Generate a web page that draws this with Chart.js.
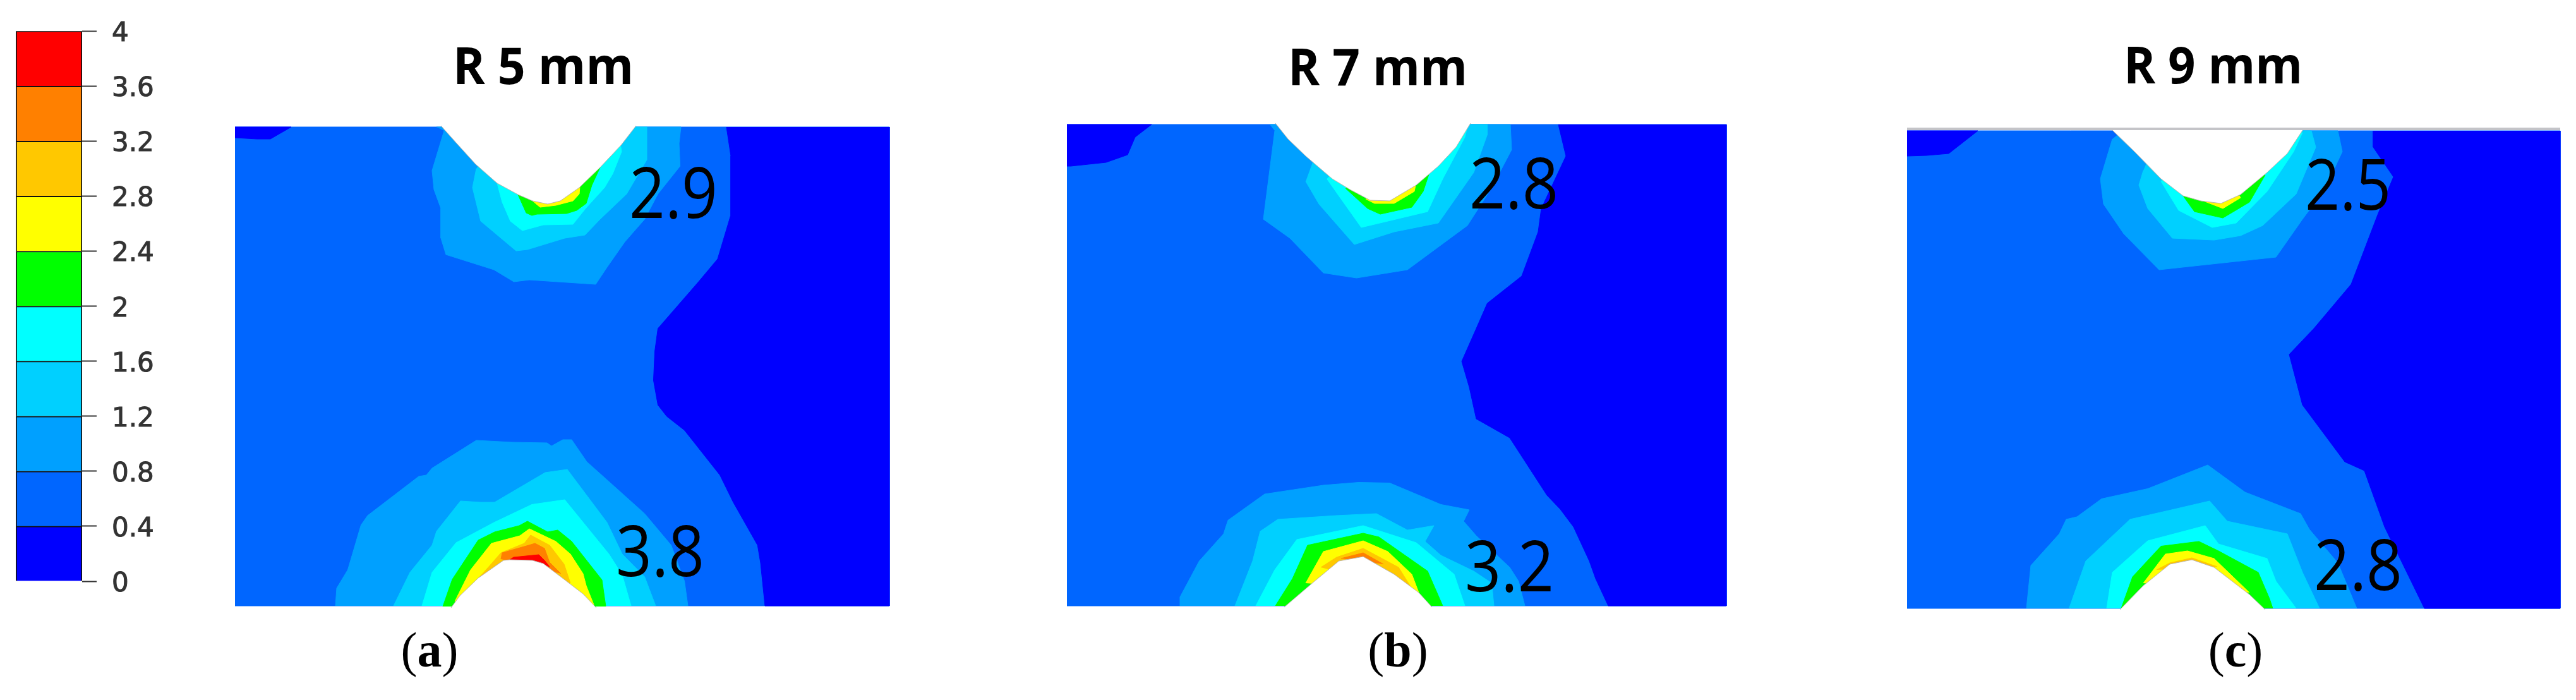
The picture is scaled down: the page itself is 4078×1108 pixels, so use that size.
<!DOCTYPE html>
<html><head><meta charset="utf-8">
<style>html,body{margin:0;padding:0;background:#fff;width:4078px;height:1108px;overflow:hidden}
canvas{position:absolute;left:0;top:0}</style>
<script src="https://cdn.jsdelivr.net/npm/chart.js@4/dist/chart.umd.min.js"></script>
</head><body>
<canvas id="contour" width="4078" height="1108"></canvas>
<canvas id="scale" width="300" height="1108"></canvas>
<script>
// Colour scale
const levelTicks = [0,0.4,0.8,1.2,1.6,2,2.4,2.8,3.2,3.6,4];
const bandWidth = [0.4,0.4,0.4,0.4,0.4,0.4,0.4,0.4,0.4,0.4];
const bandColors = ['#0000ff','#0066ff','#00a0ff','#00d0ff','#00ffff','#00ff00','#ffff00','#ffc800','#ff8000','#ff0000'];

// Panel texts
const panelTitles = ['R 5 mm','R 7 mm','R 9 mm'];
const panelCaptions = ['a','b','c'];
const peakLabels = ['2.9','3.8','2.8','3.2','2.5','2.8'];

// Panel (a) contours
const aFrame=[[372,201],[1408,201],[1408,959],[372,959]];
const aLowTL=[[372,201],[461,201],[428,220],[407,220],[372,218]];
const aLowR=[[1150,201],[1157,247],[1157,340],[1136,410],[1105,447],[1041.5,520],[1036.6,556],[1034.5,602],[1041.5,641],[1055.5,659],[1083.6,681],[1139.7,752],[1160.8,795],[1199.3,863],[1204,891],[1211,959],[1408,959],[1408,201]];
const aT08=[[703,207],[684,270],[687,300],[698,330],[698,377],[706,403],[782,427],[813.5,446],[838,443],[943,450],[961,423],[989,383],[1020.5,347],[1041.5,307],[1076.6,263],[1075,227],[1078,201],[691,201]];
const aT12=[[754,267],[748,297],[761,350],[817,397],[835,395],[894,377],[926,372],[950,347],[992,307],[1024,253],[1024,201],[800,201]];
const aT16=[[787,290],[795,320],[808,350],[827,365],[860,356],[907,355],[927,330],[957,297],[970,275],[984,240],[982,228],[860,228]];
const aT20=[[820,308],[833,337],[842,341],[850,339],[897,338],[913,333],[928,322],[937,293],[950,265],[880,270]];
const aT24=[[843,318],[855,328],[880,325],[907,318],[917,307],[918,295],[880,300]];
const aB08=[[531,959],[533,931],[550.5,902],[571.5,831],[582,816],[663,754],[675,752],[684,741],[754,697],[810,700],[866,701],[873,706],[891,696],[905,696],[929,731],[957,756],[1020.5,813],[1062.5,863],[1083.6,920],[1089,959]];
const aB12=[[623,959],[649,906],[684,863],[691,841],[729,793],[761,795],[783,795],[863,748],[898,743],[961,827],[985,877],[1020.5,913],[1038,959]];
const aB16=[[668,959],[684,906],[722,859],[782,827],[842,798.5],[894,791],[964,877],[985,910],[999,959]];
const aB20=[[701,960],[716,917],[757,855],[783,842],[822,832],[835,825],[867,842],[883,839],[905,857],[953,918],[959,960]];
const aB24=[[720,952],[745,902],[778,860],[823,848],[838,837],[880,857],[903,877],[923,908],[928,927],[940,957]];
const aB28=[[755,918],[780,890],[793,875],[830,860],[840,847],[870,863],[893,893],[903,923]];
const aB32=[[793,885],[795,875],[837,863],[847,860],[862,868],[870,890],[888,908]];
const aB36=[[807,886],[813,882],[853,878],[862,887],[870,897],[850,890]];
const aNotchT=[[698,199],[723,227],[753,260],[787,290],[820,308],[843,318],[867,323],[887,318],[917,297],[950,265],[983,230],[1007,199]];
const aNotchB=[[714,962],[728,943],[757,915],[797,887],[807,886],[843,887],[860,892],[893,917],[923,940],[944,962]];

// Panel (b) contours
const bFrame=[[1689,197],[2733,197],[2733,959],[1689,959]];
const bLowTL=[[1689,197],[1823,197],[1797,217],[1785,245],[1751,257],[1695,263],[1689,263]];
const bLowR=[[2467,197],[2479,247],[2440,330],[2435,367],[2409,437],[2354.5,480],[2337,520],[2314,572],[2326,613],[2337,663],[2390,693],[2449,784],[2470,806],[2491,834],[2516,888],[2526,916],[2546,959],[2733,959],[2733,197]];
const bT08=[[2018,207],[2000,347],[2042,377],[2095,432],[2147.5,440],[2228,427],[2323,357],[2361.5,297],[2393,237],[2391,197],[2010,197]];
const bT12=[[2067,287],[2088,323],[2144,387],[2207,367],[2277,353],[2333,273],[2354.5,213],[2354.5,197],[2100,197]];
const bT16=[[2100.5,283],[2119.5,310],[2155,360],[2260,335],[2284,283],[2319,217],[2322,205],[2180,205]];
const bT20=[[2130,298],[2165,330],[2185,339],[2235,328],[2253,303],[2263,273],[2190,270]];
const bT24=[[2162,315],[2176,322],[2207,322],[2239,303],[2241,293],[2190,290]];
const bB08=[[1868,959],[1868,945],[1898.5,888],[1937,845],[1944,823.5],[2002,782],[2095,768],[2151,763.5],[2200,764.5],[2281,798.5],[2326,807],[2317,825],[2337,848],[2390,898],[2404,920],[2414,959]];
const bB12=[[1955,959],[1983,888],[1995,841],[2023,822],[2116,816],[2179,813],[2228,839],[2270,832],[2256,857],[2281,879],[2333,904],[2361.5,923],[2365,959]];
const bB16=[[1988,959],[2018,902],[2053,854],[2158,832],[2242,859],[2302,909],[2319,959]];
const bB20=[[2019,959],[2046,916],[2070,863],[2158,844],[2183,850],[2260,904],[2284,959]];
const bB24=[[2067,923],[2095,873],[2158,856],[2197,873],[2235,909],[2246,938]];
const bB28=[[2091,898],[2116,882],[2158,868],[2214,898],[2239,938]];
const bB32=[[2123,884],[2158,875],[2190,893]];
const bNotchT=[[2019,195],[2039,220],[2067,247],[2109,283],[2137,300],[2169,317],[2200,318],[2242,293],[2277,263],[2305,233],[2328,195]];
const bNotchB=[[2033,961],[2081,920],[2119.5,888],[2158,881],[2207,909],[2246,938],[2267,961]];

// Panel (c) contours
const cFrame=[[3019,207],[4053,207],[4053,963],[3019,963]];
const cLowTL=[[3019,207],[3131,207],[3085,243],[3050,246],[3019,247]];
const cLowR=[[3757,207],[3757,233],[3789,280],[3764,340],[3722,450],[3663,520],[3624,561],[3645,641],[3712,731],[3743,745],[3775,834],[3838,963],[4053,963],[4053,207]];
const cT08=[[3344,220],[3325,283],[3330,323],[3362,370],[3418,427],[3603,407],[3645,347],[3680,300],[3708,240],[3701,207],[3360,207]];
const cT12=[[3393,270],[3386,293],[3400,330],[3439,377],[3505,380],[3547,373],[3582,357],[3635,307],[3666,233],[3659,207],[3420,207]];
const cT16=[[3421,287],[3449,333],[3502,360],[3540,353],[3589,303],[3631,240],[3645,210],[3480,210]];
const cT20=[[3456,310],[3474,335],[3519,345],[3561,320],[3586,277],[3520,280]];
const cT24=[[3488,318],[3519,330],[3547,313],[3544,308],[3515,300]];
const cB08=[[3208,963],[3215,895],[3260,845],[3271,822],[3288,818],[3327,789.5],[3400,773.5],[3495,736],[3554,779],[3642,813],[3656,838],[3701,891],[3731,963]];
const cB12=[[3275.5,963],[3302,888],[3372,822],[3442,806],[3498,793],[3526,825],[3621,845],[3645,906],[3672,963]];
const cB16=[[3335,963],[3344,906],[3400,856],[3491,832],[3512,861],[3589,884],[3603,920],[3635,963]];
const cB20=[[3358,963],[3376,913],[3421,864.5],[3481,857],[3512,872],[3575,906],[3593,948],[3598,963]];
const cB24=[[3393,923],[3428,877],[3463,872],[3505,884],[3561,938]];
const cB28=[[3414,902],[3435,891],[3470,883],[3510,897]];
const cNotchT=[[3343,205],[3379,240],[3421,283],[3456,310],[3484,318],[3516,322],[3547,308],[3589,273],[3621,243],[3646,205]];
const cNotchB=[[3356,965],[3393,927],[3435,893],[3470,886],[3505,898],[3561,941],[3586,965]];
const cTopEdge=[[3019,204],[4053,204]];

const WHITE='#ffffff';
const layers=[
 [aFrame,1],[aLowTL,0],[aLowR,0],[aT08,2],[aT12,3],[aT16,4],[aT20,5],[aT24,6],
 [aB08,2],[aB12,3],[aB16,4],[aB20,5],[aB24,6],[aB28,7],[aB32,8],[aB36,9],
 [bFrame,1],[bLowTL,0],[bLowR,0],[bT08,2],[bT12,3],[bT16,4],[bT20,5],[bT24,6],
 [bB08,2],[bB12,3],[bB16,4],[bB20,5],[bB24,6],[bB28,7],[bB32,8],
 [cFrame,1],[cLowTL,0],[cLowR,0],[cT08,2],[cT12,3],[cT16,4],[cT20,5],[cT24,6],
 [cB08,2],[cB12,3],[cB16,4],[cB20,5],[cB24,6],[cB28,7]
];
const holes=[aNotchT,aNotchB,bNotchT,bNotchB,cNotchT,cNotchB];

const pts=a=>a.map(([x,y])=>({x,y}));
const poly=(a,color,edge,i)=>({data:pts(a),showLine:true,fill:'shape',backgroundColor:color,borderColor:edge,borderWidth:1,pointRadius:0,tension:0,order:-i});
const datasets=[];
layers.forEach(([a,l])=>datasets.push(poly(a,bandColors[l],bandColors[l],datasets.length)));
holes.forEach(a=>datasets.push(poly(a,WHITE,'#b9b4b0',datasets.length)));
datasets.push({data:pts(cTopEdge),showLine:true,fill:false,borderColor:'#c4c4c8',borderWidth:4,pointRadius:0,order:-datasets.length});

// text anchors, in the same units as the contours
const titleBoxes=[[717,1003,133],[2039,2323,135],[3362,3645,132]];
const peakBoxes=[[996,1136,345],[975,1115,912],[2326,2467,330],[2319,2460,936],[3649,3785,332],[3663,3803,934]];
const captionAnchors=[[680,1055],[2213,1055],[3539,1055]];

const textPlugin={id:'panelText',afterDatasetsDraw(ch){
  const {ctx,scales:{x,y}}=ch;
  const fit=(t,font,[x0,x1,b],color)=>{
    ctx.save();ctx.font=font;ctx.fillStyle=color;ctx.textAlign='left';ctx.textBaseline='alphabetic';
    const px0=x.getPixelForValue(x0),px1=x.getPixelForValue(x1),w=ctx.measureText(t).width;
    ctx.translate(px0,y.getPixelForValue(b));ctx.scale((px1-px0)/w,1);ctx.fillText(t,0,0);ctx.restore();
  };
  panelTitles.forEach((t,i)=>fit(t,'700 80px "Open Sans"',titleBoxes[i],'#000'));
  peakLabels.forEach((t,i)=>fit(t,'400 112px "Open Sans"',peakBoxes[i],'#000'));
  panelCaptions.forEach((t,i)=>{
    const R='400 78px "Liberation Serif"',B='700 78px "Liberation Serif"';
    ctx.save();ctx.fillStyle='#000';ctx.textBaseline='alphabetic';ctx.textAlign='left';
    ctx.font=R;const p=ctx.measureText('(').width;ctx.font=B;const m=ctx.measureText(t).width;
    let px=x.getPixelForValue(captionAnchors[i][0])-(2*p+m)/2;const py=y.getPixelForValue(captionAnchors[i][1]);
    ctx.font=R;ctx.fillText('(',px,py);px+=p;ctx.font=B;ctx.fillText(t,px,py);px+=m;ctx.font=R;ctx.fillText(')',px,py);
    ctx.restore();
  });
}};

new Chart(document.getElementById('contour'),{
  type:'scatter',data:{datasets},plugins:[textPlugin],
  options:{responsive:false,animation:false,maintainAspectRatio:false,layout:{padding:0},
    plugins:{legend:{display:false},tooltip:{enabled:false},filler:{propagate:false}},
    scales:{x:{type:'linear',min:0,max:4078,display:false},y:{type:'linear',min:0,max:1108,reverse:true,display:false}}}
});

new Chart(document.getElementById('scale'),{
  type:'bar',
  data:{labels:[''],datasets:bandWidth.map((v,i)=>({data:[v],backgroundColor:bandColors[i],borderColor:'#111',borderWidth:2,barPercentage:1,categoryPercentage:1}))},
  options:{responsive:false,animation:false,maintainAspectRatio:false,
    layout:{padding:{left:25,top:38,bottom:188,right:0}},
    plugins:{legend:{display:false},tooltip:{enabled:false}},
    scales:{
      x:{stacked:true,display:false},
      y:{stacked:true,position:'right',min:0,max:4,
        afterBuildTicks(s){s.ticks=levelTicks.map(value=>({value}));},
        afterFit(s){s.width=170;},
        border:{display:false},
        grid:{display:true,drawOnChartArea:false,drawTicks:true,tickLength:23,tickColor:'#333',tickWidth:2},
        ticks:{autoSkip:false,padding:24,labelOffset:5,color:'#333',textStrokeColor:'#333',textStrokeWidth:1,font:{family:'"DejaVu Sans"',size:42},callback:v=>String(v)}
      }
    }}
});
</script>
</body></html>
